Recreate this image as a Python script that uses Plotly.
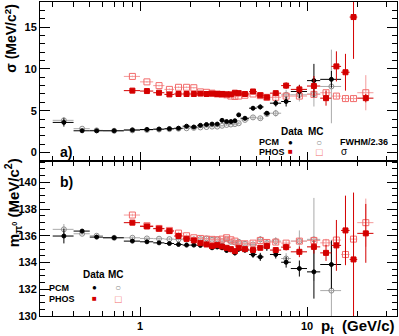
import plotly.graph_objects as go
from plotly.subplots import make_subplots

# pt bins (GeV/c) and half widths
pt_pcm = [0.35, 0.45, 0.55, 0.7, 0.9, 1.1, 1.3, 1.5, 1.7, 1.9, 2.1, 2.3, 2.5, 2.7, 2.9,
          3.1, 3.3, 3.5, 3.7, 3.9, 4.25, 4.75, 5.25, 5.75, 6.5, 7.5, 9.0, 11.0, 14.0]
dpt_pcm = [0.05, 0.05, 0.05, 0.1, 0.1, 0.1, 0.1, 0.1, 0.1, 0.1, 0.1, 0.1, 0.1, 0.1, 0.1,
           0.1, 0.1, 0.1, 0.1, 0.1, 0.25, 0.25, 0.25, 0.25, 0.5, 0.5, 1.0, 1.0, 2.0]
pt_phos = [0.9, 1.1, 1.3, 1.5, 1.7, 1.9, 2.1, 2.3, 2.5, 2.7, 2.9, 3.1, 3.3, 3.5, 3.7,
           3.9, 4.25, 4.75, 5.25, 5.75, 6.5, 7.5, 9.0, 11.0, 13.0, 15.0, 17.0, 19.0, 22.5]
dpt_phos = [0.1, 0.1, 0.1, 0.1, 0.1, 0.1, 0.1, 0.1, 0.1, 0.1, 0.1, 0.1, 0.1, 0.1, 0.1,
            0.1, 0.25, 0.25, 0.25, 0.25, 0.5, 0.5, 1.0, 1.0, 1.0, 1.0, 1.0, 1.0, 2.5]

# a) peak width sigma (MeV/c^2)
sig_pcm_data = [3.6, 2.6, 2.6, 2.6, 2.7, 2.75, 2.8, 2.85, 2.9, 3.15, 3.05, 3.25, 3.35, 3.4, 3.4,
                3.85, 3.7, 3.7, 3.8, 4.5, 4.1, 5.3, 5.45, 4.7, 5.9, 6.1, 7.3, 8.6, 8.75]
sig_pcm_data_err = [0.5, 0.1, 0.1, 0.1, 0.1, 0.1, 0.1, 0.1, 0.1, 0.1, 0.1, 0.1, 0.1, 0.1, 0.15,
                    0.15, 0.15, 0.15, 0.2, 0.2, 0.2, 0.25, 0.3, 0.25, 0.4, 0.6, 0.8, 2.0, 1.0]
sig_pcm_mc = [3.85, 2.85, 2.65, 2.6, 2.65, 2.7, 2.75, 2.8, 2.85, 2.9, 2.95, 3.0, 3.05, 3.1, 3.1,
              3.2, 3.3, 3.35, 3.4, 3.5, 3.9, 4.2, 4.1, 4.6, 4.7, 6.9, 6.9, 7.0, 7.9]
sig_pcm_mc_err = [0.4, 0.1, 0.1, 0.1, 0.1, 0.1, 0.1, 0.1, 0.1, 0.1, 0.1, 0.1, 0.1, 0.1, 0.1,
                  0.1, 0.1, 0.1, 0.15, 0.15, 0.15, 0.2, 0.2, 0.3, 0.4, 0.6, 0.8, 1.5, 4.4]
sig_phos_data = [7.4, 7.35, 7.15, 6.95, 7.0, 7.0, 7.0, 7.05, 7.0, 7.05, 7.0, 7.0, 6.95, 6.95, 7.15,
                 7.1, 7.0, 7.3, 6.85, 6.6, 7.1, 8.0, 7.55, 7.95, 6.5, 10.3, 9.6, 16.2, 6.5]
sig_phos_data_err = [0.1, 0.1, 0.1, 0.1, 0.1, 0.1, 0.1, 0.1, 0.1, 0.1, 0.1, 0.1, 0.1, 0.1, 0.1,
                     0.1, 0.15, 0.2, 0.2, 0.2, 0.2, 0.4, 0.5, 1.2, 0.9, 1.8, 2.2, 5.0, 0.5]
sig_phos_mc = [9.1, 8.45, 8.0, 7.55, 7.8, 7.8, 7.75, 7.25, 7.2, 7.1, 7.0, 6.95, 6.9, 6.75, 6.7,
               6.75, 6.85, 7.0, 6.8, 6.6, 6.6, 6.75, 6.75, 6.95, 7.15, 6.75, 6.45, 6.45, 7.15]
sig_phos_mc_err = [0.1, 0.1, 0.1, 0.1, 0.1, 0.1, 0.1, 0.1, 0.1, 0.1, 0.1, 0.1, 0.1, 0.1, 0.1,
                   0.1, 0.1, 0.1, 0.1, 0.1, 0.15, 0.15, 0.2, 0.2, 0.3, 0.3, 0.3, 0.3, 2.1]

# b) peak position (MeV/c^2)
m_pcm_data = [135.98, 136.35, 135.9, 135.85, 135.6, 135.55, 135.47, 135.42, 135.35, 135.3, 135.3,
              135.28, 135.38, 135.1, 135.16, 135.1, 134.9, 134.95, 134.72, 135.0, 134.93, 134.6,
              134.42, 135.17, 134.6, 134.02, 133.55, 133.3, 133.85]
m_pcm_data_err = [0.55, 0.15, 0.1, 0.1, 0.1, 0.1, 0.1, 0.1, 0.1, 0.1, 0.1, 0.1, 0.1, 0.1, 0.1,
                  0.15, 0.15, 0.15, 0.2, 0.2, 0.2, 0.25, 0.3, 0.3, 0.3, 0.4, 0.6, 2.0, 1.8]
m_pcm_mc = [136.48, 136.15, 136.0, 135.85, 135.85, 135.8, 135.78, 135.75, 135.73, 135.7, 135.73,
            135.75, 135.8, 135.7, 135.73, 135.6, 135.75, 135.55, 135.5, 135.55, 135.4, 135.35,
            135.73, 135.45, 135.6, 134.3, 135.6, 135.73, 131.9]
m_pcm_mc_err = [0.4, 0.1, 0.1, 0.1, 0.1, 0.1, 0.1, 0.1, 0.1, 0.1, 0.1, 0.1, 0.1, 0.1, 0.1,
                0.15, 0.15, 0.15, 0.15, 0.2, 0.2, 0.2, 0.25, 0.3, 0.3, 0.4, 0.8, 3.1, 3.5]
m_phos_data = [136.98, 136.7, 136.53, 136.35, 135.98, 135.77, 135.65, 135.45, 135.35, 135.23,
               135.3, 135.2, 135.1, 135.0, 134.85, 135.1, 135.0, 134.93, 135.1, 135.23, 134.93,
               135.15, 134.8, 135.17, 134.72, 135.28, 136.4, 134.23, 136.18]
m_phos_data_err = [0.1, 0.1, 0.1, 0.1, 0.1, 0.1, 0.1, 0.1, 0.1, 0.1, 0.1, 0.1, 0.1, 0.1, 0.1,
                   0.1, 0.15, 0.15, 0.15, 0.15, 0.2, 0.25, 0.4, 0.5, 0.6, 1.9, 2.6, 5.0, 2.2]
m_phos_mc = [137.55, 136.75, 136.55, 136.4, 136.2, 136.0, 135.85, 135.8, 135.75, 135.73, 135.7,
             135.75, 135.85, 135.7, 135.6, 135.4, 135.4, 135.45, 135.65, 135.5, 135.53, 135.45,
             135.6, 135.65, 135.47, 135.68, 134.6, 135.75, 136.98]
m_phos_mc_err = [0.1, 0.1, 0.1, 0.1, 0.1, 0.1, 0.1, 0.1, 0.1, 0.1, 0.1, 0.1, 0.1, 0.1, 0.1,
                 0.1, 0.1, 0.1, 0.1, 0.1, 0.15, 0.15, 0.2, 0.2, 0.3, 0.3, 0.6, 0.6, 1.8]

m_pdg = 135.0

BLACK = "black"
GRAY = "#8c8c8c"
RED = "#d40000"
LRED = "#f26b6b"
FONT = "Liberation Sans"

fig = make_subplots(rows=2, cols=1, shared_xaxes=True, vertical_spacing=0,
                    row_heights=[0.506, 0.494])


def points(x, dx, y, dy, color, symbol, size, row, ecolor=None):
    fig.add_trace(go.Scatter(
        x=x, y=y, mode="markers",
        marker=dict(color=color, symbol=symbol, size=size,
                    line=dict(color=color, width=1)),
        error_x=dict(type="data", array=dx, color=ecolor or color, thickness=1, width=0),
        error_y=dict(type="data", array=dy, color=ecolor or color, thickness=1, width=0),
        showlegend=False), row=row, col=1)


# top panel
points(pt_pcm, dpt_pcm, sig_pcm_mc, sig_pcm_mc_err, GRAY, "circle-open", 5, 1, "#aaaaaa")
points(pt_phos, dpt_phos, sig_phos_mc, sig_phos_mc_err, LRED, "square-open", 6, 1, "#f49a9a")
points(pt_pcm, dpt_pcm, sig_pcm_data, sig_pcm_data_err, BLACK, "circle", 4, 1)
points(pt_phos, dpt_phos, sig_phos_data, sig_phos_data_err, RED, "square", 5, 1)

# bottom panel
fig.add_hline(y=m_pdg, line=dict(color="#b4b4b4", width=1), row=2, col=1)
points(pt_pcm, dpt_pcm, m_pcm_mc, m_pcm_mc_err, GRAY, "circle-open", 5, 2, "#aaaaaa")
points(pt_phos, dpt_phos, m_phos_mc, m_phos_mc_err, LRED, "square-open", 6, 2, "#f49a9a")
points(pt_pcm, dpt_pcm, m_pcm_data, m_pcm_data_err, BLACK, "circle", 4, 2)
points(pt_phos, dpt_phos, m_phos_data, m_phos_data_err, RED, "square", 5, 2)

minor_x = [0.3, 0.4, 0.5, 0.6, 0.7, 0.8, 0.9, 2, 3, 4, 5, 6, 7, 8, 9, 20, 30]
xax = dict(type="log", range=[-0.599, 1.539], showline=True, linecolor="black", linewidth=1,
           mirror="allticks", ticks="inside", ticklen=9, tickcolor="black",
           tickvals=[1, 10], ticktext=["1", "10"],
           minor=dict(tickvals=minor_x, ticks="inside", ticklen=5, tickcolor="black"),
           showgrid=False, zeroline=False,
           tickfont=dict(family=FONT, size=11, color="black", weight="bold"))
fig.update_xaxes(**xax)
fig.update_xaxes(showticklabels=False, row=1, col=1)

yax = dict(showline=True, linecolor="black", linewidth=1, mirror="allticks",
           ticks="inside", ticklen=10, tickcolor="black", showgrid=False, zeroline=False,
           tickfont=dict(family=FONT, size=11, color="black", weight="bold"))
fig.update_yaxes(**yax)
fig.update_yaxes(range=[-1, 18], dtick=5, tick0=0,
                 minor=dict(dtick=1, ticks="inside", ticklen=5, tickcolor="black"), row=1, col=1)
fig.update_yaxes(range=[130, 141.6], dtick=2, tick0=130,
                 minor=dict(dtick=0.5, ticks="inside", ticklen=5, tickcolor="black"), row=2, col=1)


def txt(x, y, s, size=9, color="black", xanchor="center", angle=0, weight="bold"):
    fig.add_annotation(x=x, y=y, xref="paper", yref="paper", text=s, showarrow=False,
                       xanchor=xanchor, yanchor="middle", textangle=angle,
                       font=dict(family=FONT, size=size, color=color, weight=weight))


# panel labels and axis titles
txt(0.073, 0.522, "a)", 14)
txt(0.073, 0.427, "b)", 14)
txt(-0.082, 0.885, "σ (MeV/c<sup>2</sup>)", 14, angle=-90)
txt(-0.075, 0.36, "m<sub>π<sup>0</sup></sub> (MeV/c<sup>2</sup>)", 15, angle=-90)
txt(1.0, -0.035, "p<sub>t</sub>  (GeV/c)", 15, xanchor="right")

# legend a)
txt(0.706, 0.589, "Data", 10)
txt(0.772, 0.589, "MC", 10)
txt(0.608, 0.554, "PCM", xanchor="left")
txt(0.608, 0.522, "PHOS", xanchor="left")
txt(0.702, 0.554, "●", 8)
txt(0.782, 0.554, "○", 10, GRAY)
txt(0.835, 0.554, "FWHM/2.36", xanchor="left")
txt(0.702, 0.523, "■", 8, RED)
txt(0.784, 0.523, "□", 11, LRED)
txt(0.838, 0.523, "σ", 10, xanchor="left", weight="normal")

# legend b)
txt(0.151, 0.131, "Data", 10)
txt(0.212, 0.131, "MC", 10)
txt(0.02, 0.089, "PCM", xanchor="left")
txt(0.02, 0.054, "PHOS", xanchor="left")
txt(0.152, 0.090, "●", 8)
txt(0.219, 0.090, "○", 10, GRAY)
txt(0.152, 0.055, "■", 8, RED)
txt(0.219, 0.055, "□", 11, LRED)

fig.update_layout(width=399, height=336, margin=dict(l=40, r=2, t=2, b=20),
                  plot_bgcolor="white", paper_bgcolor="white", showlegend=False)

fig.write_html("out.html", config={"displayModeBar": False},
               post_script="document.body.style.margin='0';")
